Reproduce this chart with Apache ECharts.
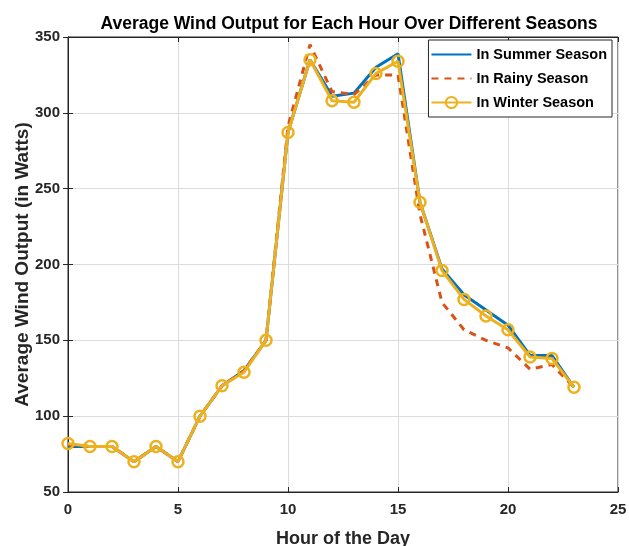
<!DOCTYPE html>
<html>
<head>
<meta charset="utf-8">
<title>Average Wind Output</title>
<script src="https://cdn.jsdelivr.net/npm/echarts@6/dist/echarts.min.js"></script>
<style>
  html, body { margin: 0; padding: 0; background: #fff; }
  #main { width: 629px; height: 546px; }
</style>
</head>
<body>
<div id="main"></div>
<script>
// hours 0..23
var hours = [0,1,2,3,4,5,6,7,8,9,10,11,12,13,14,15,16,17,18,19,20,21,22,23];
var summer = [80,80,80,70,80,70,100,120,130,150,287,335,311,313,330,339,241,197,180,170,160,140,140,119];
var rainy  = [81,80,80,70,80,70,100,120,130,150,291,345,314,312,325,325,233,175,157,150,145,131,134,119];
var winter = [82,80,80,70,80,70,100,120,129,150,287,335,308,307,326,334,241,196,177,166,157,139,138,119];

var fontFam = '"Liberation Sans", Arial, sans-serif';

function pairs(ys) {
    return hours.map(function (h, i) { return [h, ys[i]]; });
}

var chart = echarts.init(document.getElementById('main'));

var axisTxt = { color: '#262626', fontSize: 15, fontWeight: 'bold', fontFamily: fontFam };
var hideDot = { color: 'rgba(0,0,0,0)', borderWidth: 0, opacity: 0 };

chart.setOption({
    animation: false,
    title: {
        text: 'Average Wind Output for Each Hour Over Different Seasons',
        left: 344, top: 10, textAlign: 'center',
        textStyle: { fontSize: 17.5, fontWeight: 'bold', color: '#000', fontFamily: fontFam }
    },
    legend: {
        orient: 'vertical',
        right: 17, top: 40,
        itemWidth: 40, itemHeight: 14, itemGap: 9,
        padding: [7, 5, 7, 2],
        backgroundColor: '#fff',
        borderColor: '#262626', borderWidth: 1,
        textStyle: { fontSize: 14.5, fontWeight: 'bold', color: '#000', fontFamily: fontFam },
        data: [
            { name: 'In Summer Season', itemStyle: hideDot },
            { name: 'In Rainy Season', itemStyle: hideDot },
            'In Winter Season'
        ]
    },
    grid: {
        left: 68, right: 11, top: 37, bottom: 54,
        outerBoundsMode: 'none', containLabel: false,
        show: true, borderColor: '#262626', borderWidth: 1
    },
    xAxis: [{
        type: 'value', min: 0, max: 25, interval: 5,
        name: 'Hour of the Day', nameLocation: 'middle', nameGap: 38,
        nameTextStyle: { fontSize: 18, fontWeight: 'bold', color: '#262626', fontFamily: fontFam },
        axisLine: { lineStyle: { color: '#262626' } },
        axisTick: { inside: true, length: 5 },
        axisLabel: Object.assign({ margin: 10 }, axisTxt),
        splitLine: { lineStyle: { color: '#dcdcdc' } }
    }, {
        type: 'value', min: 0, max: 25, interval: 5, position: 'top',
        axisLine: { lineStyle: { color: '#262626' } },
        axisTick: { inside: true, length: 5 },
        axisLabel: { show: false }, splitLine: { show: false }
    }],
    yAxis: [{
        type: 'value', min: 50, max: 350, interval: 50,
        name: 'Average Wind Output (in Watts)', nameLocation: 'middle', nameGap: 36,
        nameMoveOverlap: false,
        nameTextStyle: { fontSize: 19, fontWeight: 'bold', color: '#262626', fontFamily: fontFam },
        axisLine: { show: true, lineStyle: { color: '#262626' } },
        axisTick: { show: true, inside: true, length: 5 },
        axisLabel: Object.assign({ margin: 8 }, axisTxt),
        splitLine: { lineStyle: { color: '#dcdcdc' } }
    }, {
        type: 'value', min: 50, max: 350, interval: 50, position: 'right',
        axisLine: { show: true, lineStyle: { color: '#262626' } },
        axisTick: { show: true, inside: true, length: 5 },
        axisLabel: { show: false }, splitLine: { show: false }
    }],
    series: [{
        name: 'In Summer Season', type: 'line', data: pairs(summer),
        showSymbol: false, symbol: 'none',
        lineStyle: { color: '#0072BD', width: 3 }, itemStyle: { color: '#0072BD' }
    }, {
        name: 'In Rainy Season', type: 'line', data: pairs(rainy),
        showSymbol: false, symbol: 'none',
        lineStyle: { color: '#D95319', width: 3, type: [7, 6] }, itemStyle: { color: '#D95319' }
    }, {
        name: 'In Winter Season', type: 'line', data: pairs(winter),
        symbol: 'circle', symbolSize: 11,
        lineStyle: { color: '#EDB120', width: 3 },
        itemStyle: { color: 'rgba(255,255,255,0)', borderColor: '#EDB120', borderWidth: 2.5 }
    }]
});
</script>
</body>
</html>
